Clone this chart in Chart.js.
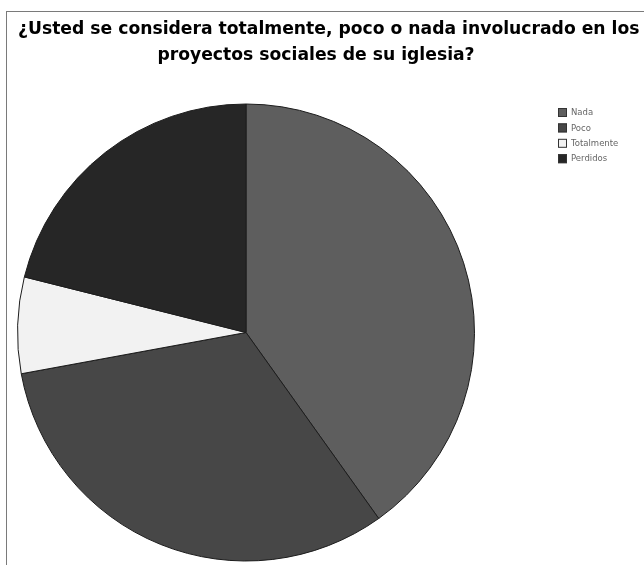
<!DOCTYPE html>
<html>
<head>
<meta charset="utf-8">
<script src="https://cdn.jsdelivr.net/npm/chart.js@4"></script>
<style>
html,body{margin:0;padding:0;background:#fff;overflow:hidden;}
#wrap{position:relative;width:644px;height:565px;}
#frame{position:absolute;left:6px;top:11px;width:700px;height:600px;border:1px solid #7a7a7a;box-sizing:border-box;}
canvas{position:absolute;left:0;top:0;}
</style>
</head>
<body>
<div id="wrap"><div id="frame"></div><canvas id="c" width="644" height="565"></canvas></div>
<script>
const titleLines = ["¿Usted se considera totalmente, poco o nada involucrado en los", "proyectos sociales de su iglesia?"];
const categories = ["Nada", "Poco", "Totalmente", "Perdidos"];
const counts = [59, 47, 10, 31];
const sliceColors = ["#5e5e5e", "#474747", "#f2f2f2", "#262626"];

const titlePlugin = {
  id: 'wideTitle',
  afterDraw(chart) {
    const ctx = chart.ctx;
    ctx.save();
    ctx.fillStyle = '#000';
    ctx.textBaseline = 'middle';
    ctx.font = 'bold 16px "DejaVu Sans", sans-serif';
    const w = ctx.measureText(titleLines[0]).width;
    const size = 16 * 622 / w;
    ctx.font = 'bold ' + size.toFixed(2) + 'px "DejaVu Sans", sans-serif';
    ctx.textAlign = 'left';
    ctx.fillText(titleLines[0], 18, 30);
    ctx.textAlign = 'center';
    ctx.fillText(titleLines[1], 316, 56);
    ctx.restore();
  }
};

const legendPlugin = {
  id: 'sideLegend',
  afterDraw(chart) {
    const ctx = chart.ctx;
    const ds = chart.data.datasets[0];
    ctx.save();
    ctx.font = '8.5px "DejaVu Sans", sans-serif';
    ctx.textBaseline = 'middle';
    chart.data.labels.forEach((lab, i) => {
      const y = 108 + i * 15.4;
      ctx.fillStyle = ds.backgroundColor[i];
      ctx.fillRect(558, y, 9, 9);
      ctx.strokeStyle = '#333';
      ctx.lineWidth = 1;
      ctx.strokeRect(558.5, y + 0.5, 8, 8);
      ctx.fillStyle = '#666';
      ctx.fillText(lab, 571, y + 5);
    });
    ctx.restore();
  }
};

new Chart(document.getElementById('c'), {
  type: 'pie',
  data: {
    labels: categories,
    datasets: [{
      data: counts,
      backgroundColor: sliceColors,
      borderColor: '#1c1c1c',
      borderWidth: 1
    }]
  },
  options: {
    responsive: false,
    animation: false,
    layout: { padding: { left: 17, right: 169, top: 103, bottom: 3 } },
    plugins: {
      legend: { display: false },
      tooltip: { enabled: false },
      title: { display: false }
    }
  },
  plugins: [titlePlugin, legendPlugin]
});
</script>
</body>
</html>
